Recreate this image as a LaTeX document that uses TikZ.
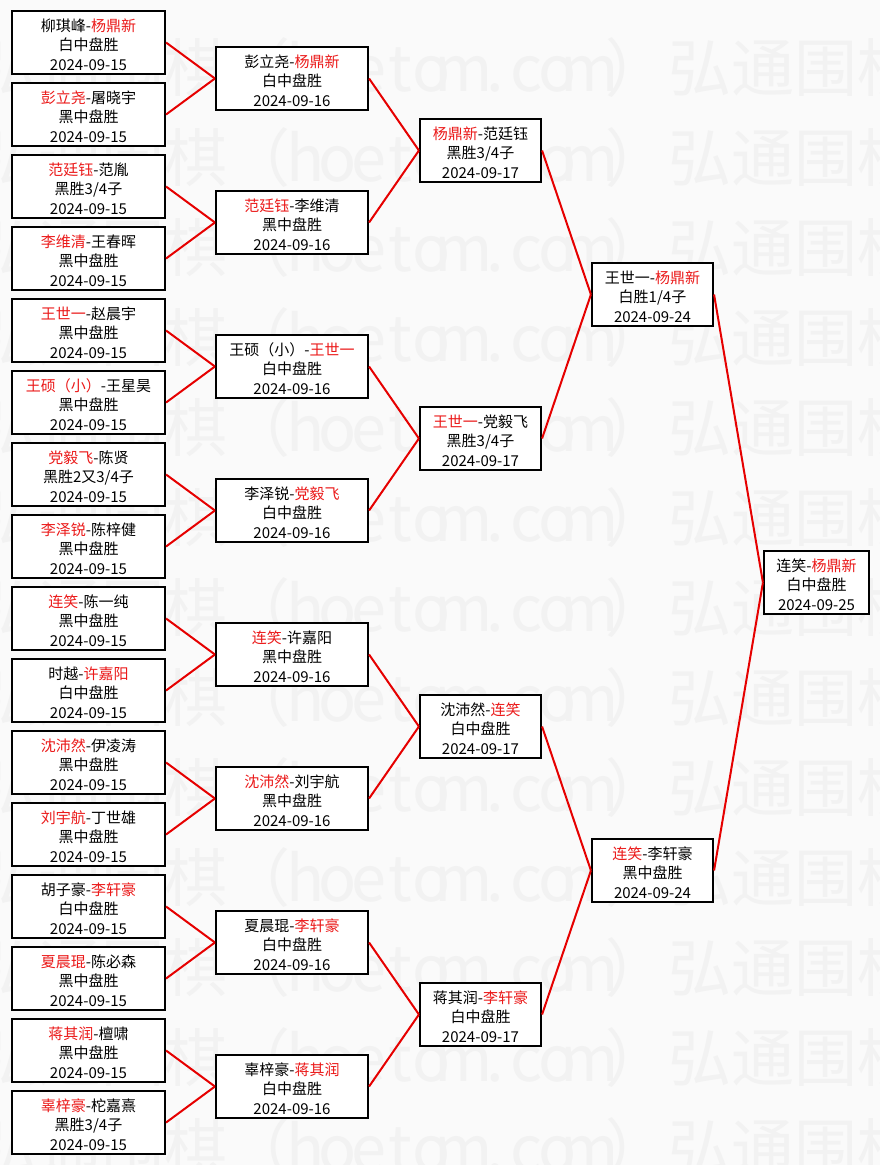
\documentclass[tikz,border=0pt]{standalone}
\usepackage{fontspec}
\setmainfont{Noto Sans CJK SC}
\definecolor{win}{RGB}{235,25,25}
\definecolor{lnk}{RGB}{230,0,0}
\definecolor{bgc}{RGB}{250,250,250}
\definecolor{wmc}{RGB}{242,242,242}
\newcommand\W[1]{\textcolor{win}{#1}}
\newcommand\mt[3]{\raisebox{-3.2pt}[\height][\depth]{\begin{tabular}{@{}c@{}}#1\\#2\\#3\end{tabular}}}
\newcommand\hc[1]{\makebox[23.625pt]{#1}}
\newcommand\wmunit{弘通围棋（\hc{h}\hc{o}\hc{e}\hc{t}\hc{o}\hc{m}\hc{.}\hc{c}\hc{o}\hc{m}）}
\tikzset{
  box/.style={draw=black, line width=1.6pt, fill=white, inner sep=0pt,
    minimum height=63*0.75pt, font=\fontsize{11.25pt}{14.6pt}\selectfont},
  cA/.style={box, minimum width=153*0.75pt},
  cB/.style={box, minimum width=152*0.75pt},
  cC/.style={box, minimum width=121*0.75pt},
  cD/.style={box, minimum width=121*0.75pt},
  cE/.style={box, minimum width=105*0.75pt},
  link/.style={draw=lnk, line width=1.5pt},
  wmtext/.style={text=wmc, inner sep=0pt, anchor=base west,
    font=\fontsize{47.25pt}{50pt}\selectfont},
}
\begin{document}
\begin{tikzpicture}[x=0.75pt, y=-0.75pt]
\useasboundingbox (0,0) rectangle (880,1165);
\fill[bgc] (0,0) rectangle (880,1165);
% watermark
\begin{scope}
\clip (0,0) rectangle (880,1165);
\foreach \k in {0,...,12}{
  \node[wmtext] (wm\k) at (-25, 91+90*\k) {\wmunit\wmunit};
}
\end{scope}
% round 1
\node[cA] (a1)  at (88.5,42.5)   {\mt{柳琪峰-\W{杨鼎新}}{白中盘胜}{2024-09-15}};
\node[cA] (a2)  at (88.5,114.5)  {\mt{\W{彭立尧}-屠晓宇}{黑中盘胜}{2024-09-15}};
\node[cA] (a3)  at (88.5,186.5)  {\mt{\W{范廷钰}-范胤}{黑胜3/4子}{2024-09-15}};
\node[cA] (a4)  at (88.5,258.5)  {\mt{\W{李维清}-王春晖}{黑中盘胜}{2024-09-15}};
\node[cA] (a5)  at (88.5,330.5)  {\mt{\W{王世一}-赵晨宇}{黑中盘胜}{2024-09-15}};
\node[cA] (a6)  at (88.5,402.5)  {\mt{\W{王硕（小）}-王星昊}{黑中盘胜}{2024-09-15}};
\node[cA] (a7)  at (88.5,474.5)  {\mt{\W{党毅飞}-陈贤}{黑胜2又3/4子}{2024-09-15}};
\node[cA] (a8)  at (88.5,546.5)  {\mt{\W{李泽锐}-陈梓健}{黑中盘胜}{2024-09-15}};
\node[cA] (a9)  at (88.5,618.5)  {\mt{\W{连笑}-陈一纯}{黑中盘胜}{2024-09-15}};
\node[cA] (a10) at (88.5,690.5)  {\mt{时越-\W{许嘉阳}}{白中盘胜}{2024-09-15}};
\node[cA] (a11) at (88.5,762.5)  {\mt{\W{沈沛然}-伊凌涛}{黑中盘胜}{2024-09-15}};
\node[cA] (a12) at (88.5,834.5)  {\mt{\W{刘宇航}-丁世雄}{黑中盘胜}{2024-09-15}};
\node[cA] (a13) at (88.5,906.5)  {\mt{胡子豪-\W{李轩豪}}{白中盘胜}{2024-09-15}};
\node[cA] (a14) at (88.5,978.5)  {\mt{\W{夏晨琨}-陈必森}{黑中盘胜}{2024-09-15}};
\node[cA] (a15) at (88.5,1050.5) {\mt{\W{蒋其润}-檀啸}{黑中盘胜}{2024-09-15}};
\node[cA] (a16) at (88.5,1122.5) {\mt{\W{辜梓豪}-柁嘉熹}{黑胜3/4子}{2024-09-15}};
% round 2
\node[cB] (b1) at (292,78.5)   {\mt{彭立尧-\W{杨鼎新}}{白中盘胜}{2024-09-16}};
\node[cB] (b2) at (292,222.5)  {\mt{\W{范廷钰}-李维清}{黑中盘胜}{2024-09-16}};
\node[cB] (b3) at (292,366.5)  {\mt{王硕（小）-\W{王世一}}{白中盘胜}{2024-09-16}};
\node[cB] (b4) at (292,510.5)  {\mt{李泽锐-\W{党毅飞}}{白中盘胜}{2024-09-16}};
\node[cB] (b5) at (292,654.5)  {\mt{\W{连笑}-许嘉阳}{黑中盘胜}{2024-09-16}};
\node[cB] (b6) at (292,798.5)  {\mt{\W{沈沛然}-刘宇航}{黑中盘胜}{2024-09-16}};
\node[cB] (b7) at (292,942.5)  {\mt{夏晨琨-\W{李轩豪}}{白中盘胜}{2024-09-16}};
\node[cB] (b8) at (292,1086.5) {\mt{辜梓豪-\W{蒋其润}}{白中盘胜}{2024-09-16}};
% round 3
\node[cC] (c1) at (480.5,150.5)  {\mt{\W{杨鼎新}-范廷钰}{黑胜3/4子}{2024-09-17}};
\node[cC] (c2) at (480.5,438.5)  {\mt{\W{王世一}-党毅飞}{黑胜3/4子}{2024-09-17}};
\node[cC] (c3) at (480.5,726.5)  {\mt{沈沛然-\W{连笑}}{白中盘胜}{2024-09-17}};
\node[cC] (c4) at (480.5,1014.5) {\mt{蒋其润-\W{李轩豪}}{白中盘胜}{2024-09-17}};
% semifinal
\node[cD] (d1) at (652.5,294.5) {\mt{王世一-\W{杨鼎新}}{白胜1/4子}{2024-09-24}};
\node[cD] (d2) at (652.5,870.5) {\mt{\W{连笑}-李轩豪}{黑中盘胜}{2024-09-24}};
% final
\node[cE] (e1) at (816.5,582.5) {\mt{连笑-\W{杨鼎新}}{白中盘胜}{2024-09-25}};
% connectors
\foreach \i/\p in {1/1,2/1,3/2,4/2,5/3,6/3,7/4,8/4,9/5,10/5,11/6,12/6,13/7,14/7,15/8,16/8}
  \draw[link] (a\i.east) -- (b\p.west);
\foreach \i/\p in {1/1,2/1,3/2,4/2,5/3,6/3,7/4,8/4}
  \draw[link] (b\i.east) -- (c\p.west);
\foreach \i/\p in {1/1,2/1,3/2,4/2}
  \draw[link] (c\i.east) -- (d\p.west);
\foreach \i in {1,2}
  \draw[link] (d\i.east) -- (e1.west);
\end{tikzpicture}
\end{document}
